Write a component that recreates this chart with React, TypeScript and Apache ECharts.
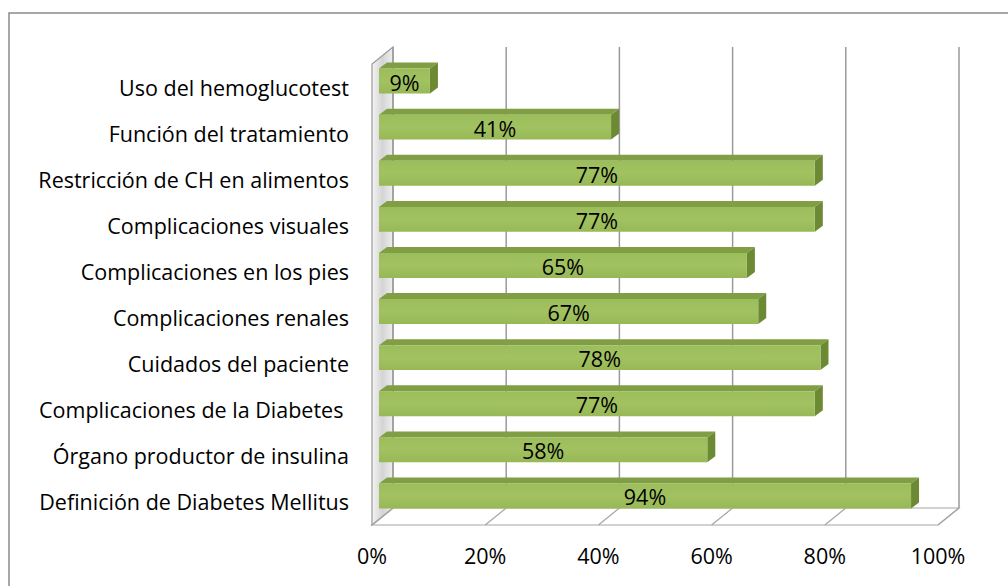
import React, { useEffect, useRef } from "react";
import * as echarts from "echarts";

const categories = [
  "Uso del hemoglucotest",
  "Función del tratamiento",
  "Restricción de CH en alimentos",
  "Complicaciones visuales",
  "Complicaciones en los pies",
  "Complicaciones renales",
  "Cuidados del paciente",
  "Complicaciones de la Diabetes ",
  "Órgano productor de insulina",
  "Definición de Diabetes Mellitus",
];
const values = [9, 41, 77, 77, 65, 67, 78, 77, 58, 94];
const ticks = [0, 20, 40, 60, 80, 100];

const FONT = "Open Sans";
const FS = 21.5;
const DX = 21;
const DY = -17;

export default function App() {
  const ref = useRef<HTMLDivElement>(null);
  useEffect(() => {
    const chart = echarts.init(ref.current!, null, { renderer: "svg" });
    const option: any = {
      animation: false,
      backgroundColor: "#ffffff",
      graphic: [
        {
          type: "rect",
          shape: { x: 9, y: 13, width: 1020, height: 600 },
          style: { fill: "none", stroke: "#8a8a8a", lineWidth: 1.5 },
          z: 100,
        },
      ],
      grid: { left: 372, top: 64, width: 566, height: 461 },
      xAxis: {
        type: "value",
        min: 0,
        max: 100,
        interval: 20,
        axisLine: { show: false },
        axisTick: { show: false },
        splitLine: { show: false },
        axisLabel: {
          formatter: "{value}%",
          color: "#000",
          fontFamily: FONT,
          fontSize: FS,
          margin: 19,
        },
      },
      yAxis: [
        {
          type: "category",
          inverse: true,
          data: categories,
          axisLine: { show: false },
          axisTick: { show: false },
          splitLine: { show: false },
          axisLabel: {
            color: "#000",
            fontFamily: FONT,
            fontSize: FS,
            margin: 23,
          },
        },
        { type: "value", min: 0, max: 10, show: false },
      ],
      series: [
        {
          type: "custom",
          xAxisIndex: 0,
          yAxisIndex: 1,
          data: [[0, 0]],
          z: 1,
          renderItem: (params: any, api: any) => {
            const p = (x: number, y: number) => api.coord([x, y]);
            const b = (pt: number[]) => [pt[0] + DX, pt[1] + DY];
            const fl = p(0, 0);
            const fr = p(100, 0);
            const tl = p(0, 10);
            const children: any[] = [];
            children.push({
              type: "polygon",
              shape: { points: [fl, fr, b(fr), b(fl)] },
              style: { fill: "#ffffff", stroke: "#a6a6a6", lineWidth: 1.2 },
            });
            children.push({
              type: "polygon",
              shape: { points: [fl, tl, b(tl), b(fl)] },
              style: {
                fill: new echarts.graphic.LinearGradient(0, 0, 1, 0, [
                  { offset: 0, color: "#f4f4f4" },
                  { offset: 0.5, color: "#d4d4d4" },
                  { offset: 1, color: "#efefef" },
                ]),
                stroke: "#999999",
                lineWidth: 1.2,
              },
            });
            ticks.forEach((t) => {
              const f = p(t, 0);
              const bt = b(p(t, 10));
              const bb = b(f);
              children.push({
                type: "line",
                shape: { x1: bb[0], y1: bb[1], x2: bt[0], y2: bt[1] },
                style: { stroke: "#9a9a9a", lineWidth: 1.5 },
              });
              children.push({
                type: "line",
                shape: { x1: f[0], y1: f[1], x2: bb[0], y2: bb[1] },
                style: { stroke: "#a6a6a6", lineWidth: 1.2 },
              });
            });
            return { type: "group", children };
          },
        },
        {
          type: "custom",
          xAxisIndex: 0,
          yAxisIndex: 0,
          data: values.map((v, i) => [v, i]),
          z: 5,
          renderItem: (params: any, api: any) => {
            const v = api.value(0);
            const idx = api.value(1);
            const end = api.coord([v, idx]);
            const start = api.coord([0, idx]);
            const band = api.size([0, 1])[1];
            const h = band * 0.54;
            const ox = 7;
            const oy = -6;
            const bx = 8;
            const by = -6;
            const x0 = start[0] + ox;
            const x1 = end[0] + ox;
            const yc = end[1] + oy;
            const yt = yc - h / 2;
            const yb = yc + h / 2;
            return {
              type: "group",
              children: [
                {
                  type: "polygon",
                  shape: {
                    points: [
                      [x0, yt],
                      [x1, yt],
                      [x1 + bx, yt + by],
                      [x0 + bx, yt + by],
                    ],
                  },
                  style: { fill: "#809e43" },
                },
                {
                  type: "polygon",
                  shape: {
                    points: [
                      [x1, yt],
                      [x1 + bx, yt + by],
                      [x1 + bx, yb + by],
                      [x1, yb],
                    ],
                  },
                  style: { fill: "#6c8a33" },
                },
                {
                  type: "rect",
                  shape: { x: x0, y: yt, width: x1 - x0, height: h },
                  style: {
                    fill: new echarts.graphic.LinearGradient(0, 0, 0, 1, [
                      { offset: 0, color: "#9cbd5a" },
                      { offset: 0.5, color: "#a2c262" },
                      { offset: 1, color: "#97b855" },
                    ]),
                  },
                },
                {
                  type: "text",
                  style: {
                    text: v + "%",
                    x: (x0 + x1) / 2,
                    y: yc + 1,
                    align: "center",
                    verticalAlign: "middle",
                    fill: "#000",
                    fontFamily: FONT,
                    fontSize: FS,
                  },
                },
              ],
            };
          },
        },
      ],
    };
    chart.setOption(option);
    return () => chart.dispose();
  }, []);
  return (
    <div
      ref={ref}
      style={{ position: "fixed", left: 0, top: 0, width: 1008, height: 586 }}
    />
  );
}
